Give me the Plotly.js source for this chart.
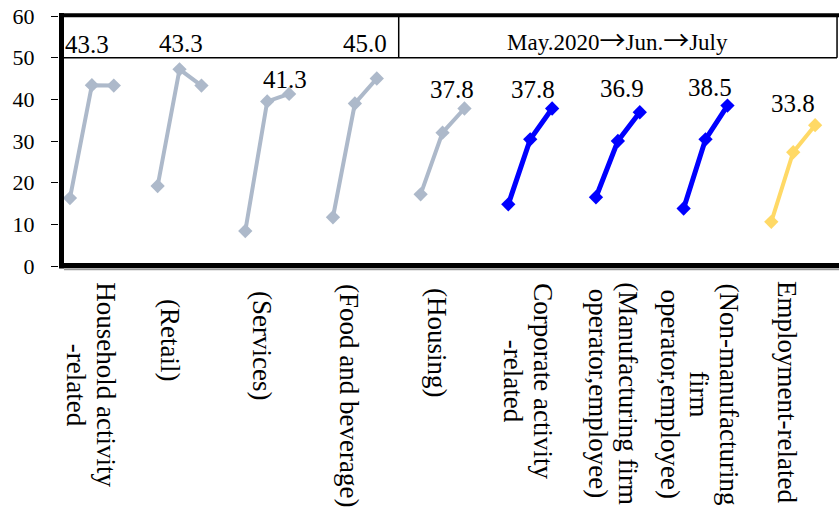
<!DOCTYPE html>
<html>
<head>
<meta charset="utf-8">
<script src="https://cdn.plot.ly/plotly-3.0.1.min.js"></script>
<style>
  html, body { margin: 0; padding: 0; overflow: hidden; background: #ffffff; }
</style>
</head>
<body>
<div id="chart"></div>
<script>
// Diffusion-index readings by sector, May 2020 -> June -> July
const categories = [
  ["Household activity", "-related"],
  ["(Retail)"],
  ["(Services)"],
  ["(Food and beverage)"],
  ["(Housing)"],
  ["Corporate activity", "-related"],
  ["(Manufacturing firm", "operator,employee)"],
  ["(Non-manufacturing", "firm", "operator,employee)"],
  ["Employment-related"]
];
const may2020 = [16.3, 19.2, 8.4, 11.7, 17.2, 14.8, 16.5, 13.8, 10.6];
const jun2020 = [43.4, 47.2, 39.5, 39.0, 32.0, 30.4, 30.0, 30.4, 27.3];
const jul2020 = [43.3, 43.3, 41.3, 45.0, 37.8, 37.8, 36.9, 38.5, 33.8];
const yTicks = [0, 10, 20, 30, 40, 50, 60];
const periodParts = ["May.2020", "Jun.", "July"];
const ARROW = "\u2192";

// ---- styling ----
const GRAY = "#ADB9CA", BLUE = "#0000FF", GOLD = "#FFD966";
const groupColor = [GRAY, GRAY, GRAY, GRAY, GRAY, BLUE, BLUE, BLUE, GOLD];
const groupLineWidth = [4, 4, 4, 4, 4, 5, 5, 5, 4];
// pixel offsets of the July value labels from their marker (dx, dy-down)
const valueLabelShift = [[-27, -41], [-20, -42], [-4, -14], [-12, -35], [-12, -19],
                         [-19, -19], [-18, -24], [-17, -18], [-22, -22]];
// page-pixel centre of each rotated category label block, and line pitch
const catLabelCenter = [[91, 385], [170, 340], [262, 345], [349, 395], [437, 343],
                        [528, 381], [613, 394], [699, 394], [787, 392]];
const CAT_LINE_PITCH = 29.5;

const FONT = "Liberation Serif";
const W = 848, H = 509, L = 59, T = 16, B = 243;
const plotW = W - L, plotH = H - T - B;
const px2paperX = p => (p - L) / plotW;
const px2paperY = p => (H - B - p) / plotH;

const SLOT = 4; // three months plus a gap per sector
const traces = categories.map((c, i) => ({
  type: "scatter",
  mode: "lines+markers",
  x: [i * SLOT, i * SLOT + 1, i * SLOT + 2],
  y: [may2020[i], jun2020[i], jul2020[i]],
  line: { color: groupColor[i], width: groupLineWidth[i] },
  marker: { symbol: "diamond", size: 11, color: groupColor[i] },
  cliponaxis: false,
  showlegend: false,
  hoverinfo: "skip"
}));

const annotations = [];
categories.forEach((lines, i) => {
  annotations.push({
    xref: "x", yref: "y",
    x: i * SLOT + 2, y: jul2020[i],
    text: jul2020[i].toFixed(1),
    showarrow: false,
    xanchor: "center", yanchor: "middle",
    xshift: valueLabelShift[i][0], yshift: -valueLabelShift[i][1],
    font: { family: FONT, size: 25, color: "#000" }
  });
  // rotated category label, one annotation per line (first line on the right)
  const [cx, cy] = catLabelCenter[i];
  const n = lines.length;
  lines.forEach((ln, k) => {
    const lx = cx + ((n - 1) / 2 - k) * CAT_LINE_PITCH;
    annotations.push({
      xref: "paper", yref: "paper",
      x: px2paperX(lx), y: px2paperY(cy),
      text: ln,
      textangle: 90,
      showarrow: false,
      xanchor: "center", yanchor: "middle",
      font: { family: FONT, size: 27, color: "#000" }
    });
  });
});
const arrowSpan = '<span style="font-family:Noto Sans CJK JP;font-size:26px">' + ARROW + '</span>';
annotations.push({
  xref: "x", yref: "y",
  x: 25, y: 55,
  text: periodParts.join(arrowSpan),
  showarrow: false,
  xanchor: "center", yanchor: "middle",
  yshift: -2,
  font: { family: FONT, size: 23, color: "#000" }
});

const shapes = [
  // thick frame: left, top, bottom
  { type: "line", xref: "paper", yref: "paper",
    x0: px2paperX(61.5), x1: px2paperX(61.5), y0: px2paperY(268.5), y1: px2paperY(13),
    line: { color: "#000", width: 5 } },
  { type: "line", xref: "paper", yref: "paper",
    x0: px2paperX(59), x1: 1, y0: px2paperY(15.3), y1: px2paperY(15.3),
    line: { color: "#000", width: 4 } },
  { type: "line", xref: "paper", yref: "paper",
    x0: px2paperX(64), x1: 1, y0: px2paperY(269.3), y1: px2paperY(269.3),
    line: { color: "#9a9a9a", width: 2 } },
  { type: "line", xref: "paper", yref: "paper",
    x0: px2paperX(59), x1: 1, y0: px2paperY(265.5), y1: px2paperY(265.5),
    line: { color: "#000", width: 5 } },
  // header boxes between 50 and 60
  { type: "line", xref: "x", yref: "y", x0: -0.5, x1: 35, y0: 50, y1: 50,
    line: { color: "#000", width: 1.5 } },
  { type: "line", xref: "x", yref: "y", x0: 15, x1: 15, y0: 50, y1: 60,
    line: { color: "#000", width: 1.5 } },
  { type: "line", xref: "x", yref: "y", x0: 35, x1: 35, y0: 50, y1: 60,
    line: { color: "#000", width: 1.5 } }
];

const layout = {
  width: W, height: H,
  margin: { l: L, r: 0, t: T, b: B },
  paper_bgcolor: "#fff", plot_bgcolor: "#fff",
  showlegend: false,
  xaxis: {
    range: [-0.5, 35.5], showgrid: false, zeroline: false,
    showline: false, showticklabels: false, ticks: ""
  },
  yaxis: {
    range: [0, 60], tickvals: yTicks, ticktext: yTicks.map(String),
    showgrid: false, zeroline: false, showline: false,
    ticks: "outside", ticklen: 7, tickwidth: 1, tickcolor: "#000",
    ticklabelstandoff: 12,
    tickfont: { family: FONT, size: 22, color: "#000" }
  },
  shapes: shapes,
  annotations: annotations
};

Plotly.newPlot("chart", traces, layout, { staticPlot: true, displayModeBar: false });
</script>
</body>
</html>
